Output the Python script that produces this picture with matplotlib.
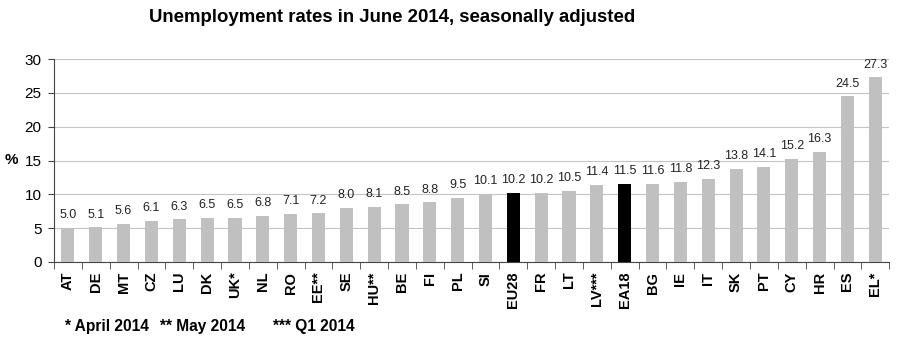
import numpy as np
import matplotlib.pyplot as plt
from matplotlib.ticker import FixedLocator

plt.rcParams['font.family'] = ['Liberation Sans', 'DejaVu Sans']

countries = ['AT', 'DE', 'MT', 'CZ', 'LU', 'DK', 'UK*', 'NL', 'RO', 'EE**',
             'SE', 'HU**', 'BE', 'FI', 'PL', 'SI', 'EU28', 'FR', 'LT', 'LV***',
             'EA18', 'BG', 'IE', 'IT', 'SK', 'PT', 'CY', 'HR', 'ES', 'EL*']
rates = [5.0, 5.1, 5.6, 6.1, 6.3, 6.5, 6.5, 6.8, 7.1, 7.2,
         8.0, 8.1, 8.5, 8.8, 9.5, 10.1, 10.2, 10.2, 10.5, 11.4,
         11.5, 11.6, 11.8, 12.3, 13.8, 14.1, 15.2, 16.3, 24.5, 27.3]
aggregates = ['EU28', 'EA18']
footnotes = ['* April 2014', '** May 2014', '*** Q1 2014']

fig = plt.figure(figsize=(9, 3.54), dpi=100)
ax = fig.add_axes([0.06, 0.26, 0.928, 0.573])

x = np.arange(len(countries))
colors = ['black' if c in aggregates else '#c0c0c0' for c in countries]
ax.bar(x, rates, width=0.47, color=colors, zorder=3)

for xi, v in zip(x, rates):
    ax.text(xi, v + 1.0, f'{v:.1f}', ha='center', va='bottom', fontsize=9, color='#222222')

ax.set_xlim(-0.5, len(countries) - 0.5)
ax.set_ylim(0, 30)
ax.set_yticks(range(0, 31, 5))
ax.grid(axis='y', color='#c4c4c4', lw=0.8, zorder=0)
ax.tick_params(axis='y', labelsize=11, length=4, color='#444444', pad=5)

ax.set_xticks(x)
ax.set_xticklabels(countries, rotation=90, fontsize=10.5, fontweight='bold')
ax.tick_params(axis='x', which='major', length=0, pad=7)
ax.xaxis.set_minor_locator(FixedLocator(np.arange(-0.5, len(countries), 1)))
ax.tick_params(axis='x', which='minor', length=5, color='#444444')

for s in ['top', 'right']:
    ax.spines[s].set_visible(False)
ax.spines['left'].set_color('#444444')
ax.spines['bottom'].set_color('#444444')

fig.text(5 / 900, 1 - 160 / 354, '%', fontsize=11, fontweight='bold', va='center')
fig.text(392 / 900, 1 - 18 / 354, 'Unemployment rates in June 2014, seasonally adjusted',
         ha='center', va='center', fontsize=13.4, fontweight='bold')

for xp, note in zip([65, 160, 273], footnotes):
    fig.text(xp / 900, 1 - 326 / 354, note, fontsize=11.2, fontweight='bold', va='center')

fig.savefig('out.png', dpi=100)
